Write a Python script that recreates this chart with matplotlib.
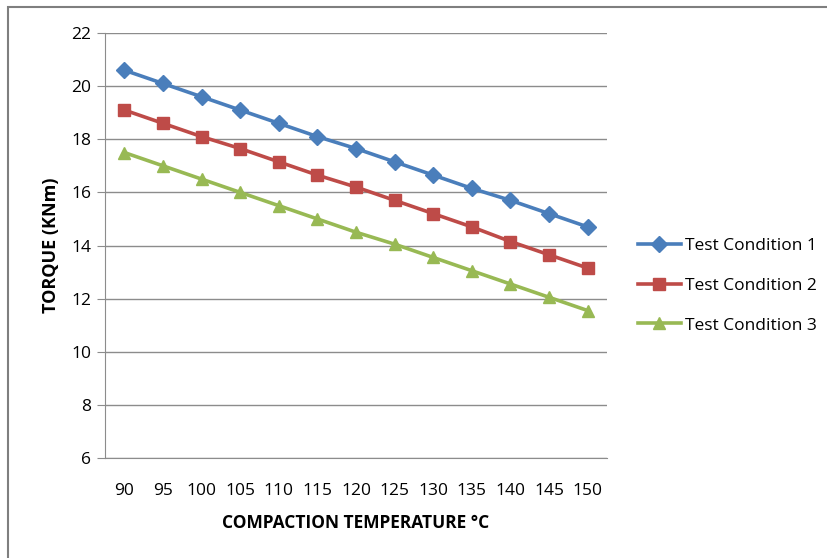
"""Torque vs compaction temperature for three test conditions."""

import matplotlib.pyplot as plt
from matplotlib.patches import Rectangle

temps = [90, 95, 100, 105, 110, 115, 120, 125, 130, 135, 140, 145, 150]
cond1 = [20.6, 20.1, 19.6, 19.1, 18.6, 18.1, 17.65, 17.15, 16.65, 16.15, 15.7, 15.2, 14.7]
cond2 = [19.1, 18.6, 18.1, 17.65, 17.15, 16.65, 16.2, 15.7, 15.2, 14.7, 14.15, 13.65, 13.15]
cond3 = [17.5, 17.0, 16.5, 16.0, 15.5, 15.0, 14.5, 14.05, 13.55, 13.05, 12.55, 12.05, 11.55]
labels = ["Test Condition 1", "Test Condition 2", "Test Condition 3"]
y_ticks = [6, 8, 10, 12, 14, 16, 18, 20, 22]

plt.rcParams["font.family"] = ["Open Sans", "DejaVu Sans"]

GRID = "#8c8c8c"

fig = plt.figure(figsize=(8.27, 5.58), dpi=100)
# outer chart frame (cut off at right and bottom in the original)
fig.patches.append(
    Rectangle((8 / 827, -0.05), 1.1, 1 - 7 / 558 + 0.05, transform=fig.transFigure,
              fill=False, edgecolor="#7f7f7f", linewidth=1.5)
)

ax = fig.add_axes([105 / 827, 1 - 458 / 558, 502 / 827, 425 / 558])
x = list(range(len(temps)))
series = [
    (cond1, "#4A7EBB", "D", 8),
    (cond2, "#BE4B48", "s", 8.5),
    (cond3, "#98B954", "^", 9),
]
for name, (data, color, marker, ms) in zip(labels, series):
    ax.plot(x, data, color=color, marker=marker, markersize=ms, linewidth=2.6,
            label=name, zorder=3)

ax.set_xlim(-0.5, len(temps) - 0.5)
ax.set_ylim(6, 22)
ax.set_yticks(y_ticks)
ax.set_xticks(x)
ax.set_xticklabels([str(t) for t in temps])
ax.yaxis.grid(True, color=GRID, linewidth=1)
ax.set_axisbelow(True)
for side in ["top", "right"]:
    ax.spines[side].set_visible(False)
for side in ["left", "bottom"]:
    ax.spines[side].set_color(GRID)
ax.tick_params(axis="y", length=6, color=GRID, labelsize=12.5, pad=4)
ax.tick_params(axis="x", length=0, labelsize=12.5, pad=18)

ax.set_xlabel("COMPACTION TEMPERATURE °C", fontsize=12.5, fontweight="bold", labelpad=11)
ax.set_ylabel("TORQUE (KNm)", fontsize=13, fontweight="bold", labelpad=8)

ax.legend(loc="center left", bbox_to_anchor=(1.03, 0.405), frameon=False,
          fontsize=12.5, handlelength=2.5, labelspacing=1.35, handletextpad=0.25)

fig.savefig("out.png", dpi=100)
